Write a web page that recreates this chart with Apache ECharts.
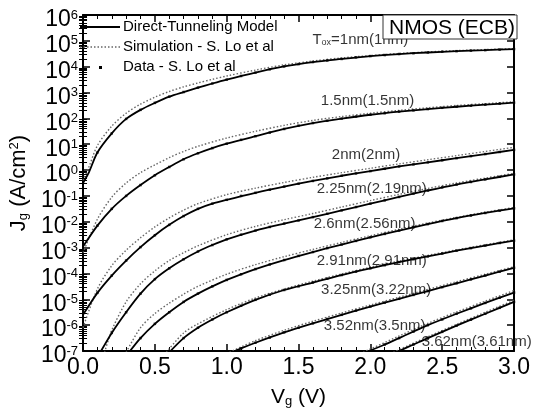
<!DOCTYPE html>
<html><head><meta charset="utf-8">
<script src="https://cdn.jsdelivr.net/npm/echarts@6/dist/echarts.min.js"></script>
<style>html,body{margin:0;padding:0;background:#fff}#c{width:533px;height:413px}</style>
</head><body><div id="c"></div>
<script>
// ---- Values: [Vg (V), log10 Jg (A/cm^2)] ----
// Direct-tunneling model (solid)
const m_1   = [[0,-0.5],[0.04,-0.1],[0.1,0.68],[0.2,1.42],[0.3,1.98],[0.4,2.33],[0.5,2.6],[0.6,2.84],[0.7,3.02],[0.8,3.19],[0.9,3.35],[1.0,3.5],[1.2,3.77],[1.4,4.01],[1.6,4.18],[1.8,4.3],[2.0,4.41],[2.2,4.49],[2.4,4.55],[2.6,4.6],[2.8,4.64],[3.0,4.68]];
const m_15  = [[0,-2.96],[0.1,-2.15],[0.2,-1.5],[0.3,-1.0],[0.4,-0.58],[0.5,-0.2],[0.6,0.12],[0.7,0.42],[0.8,0.65],[0.9,0.85],[1.0,1.02],[1.2,1.31],[1.4,1.59],[1.6,1.82],[1.8,1.99],[2.0,2.14],[2.2,2.26],[2.4,2.36],[2.6,2.45],[2.8,2.53],[3.0,2.61]];
const m_2   = [[0,-5.6],[0.1,-4.75],[0.2,-4.08],[0.3,-3.5],[0.4,-2.98],[0.5,-2.52],[0.6,-2.12],[0.7,-1.78],[0.8,-1.5],[0.9,-1.3],[1.0,-1.15],[1.2,-0.88],[1.4,-0.64],[1.6,-0.42],[1.8,-0.22],[2.0,-0.04],[2.2,0.14],[2.4,0.3],[2.6,0.46],[2.8,0.62],[3.0,0.78]];
const m_225 = [[0.12,-7.05],[0.2,-6.3],[0.3,-5.5],[0.4,-4.78],[0.5,-4.22],[0.6,-3.8],[0.7,-3.45],[0.8,-3.15],[0.9,-2.9],[1.0,-2.68],[1.2,-2.34],[1.4,-2.07],[1.6,-1.82],[1.8,-1.56],[2.0,-1.3],[2.2,-1.04],[2.4,-0.79],[2.6,-0.56],[2.8,-0.36],[3.0,-0.17]];
const m_26  = [[0.32,-7.05],[0.4,-6.5],[0.5,-5.95],[0.6,-5.5],[0.7,-5.1],[0.8,-4.78],[0.9,-4.5],[1.0,-4.25],[1.2,-3.83],[1.4,-3.48],[1.6,-3.17],[1.8,-2.88],[2.0,-2.6],[2.2,-2.34],[2.4,-2.09],[2.6,-1.86],[2.8,-1.66],[3.0,-1.48]];
const m_291 = [[0.6,-7.05],[0.7,-6.5],[0.8,-6.1],[0.9,-5.78],[1.0,-5.5],[1.2,-5.02],[1.4,-4.64],[1.6,-4.35],[1.8,-4.06],[2.0,-3.8],[2.2,-3.56],[2.4,-3.34],[2.6,-3.12],[2.8,-2.92],[3.0,-2.73]];
const m_325 = [[1.04,-7.05],[1.1,-6.9],[1.2,-6.68],[1.4,-6.28],[1.6,-5.93],[1.8,-5.6],[2.0,-5.28],[2.2,-4.98],[2.4,-4.68],[2.6,-4.38],[2.8,-4.08],[3.0,-3.78]];
const m_352 = [[1.97,-7.05],[2.1,-6.75],[2.2,-6.5],[2.4,-6.0],[2.6,-5.56],[2.8,-5.14],[3.0,-4.74]];
const m_362 = [[2.18,-7.05],[2.3,-6.75],[2.4,-6.5],[2.6,-6.02],[2.8,-5.56],[3.0,-5.1]];

// Simulation - S. Lo et al (dotted)
const s_1   = [[0,-0.4],[0.04,0.1],[0.1,0.95],[0.2,1.7],[0.3,2.2],[0.4,2.55],[0.5,2.82],[0.6,3.04],[0.7,3.22],[0.8,3.37],[0.9,3.51],[1.0,3.64],[1.2,3.87],[1.4,4.07],[1.6,4.22],[1.8,4.34],[2.0,4.43],[2.2,4.51],[2.4,4.57],[2.6,4.62],[2.8,4.66],[3.0,4.7]];
const s_15  = [[0,-3.2],[0.1,-1.9],[0.2,-1.05],[0.3,-0.5],[0.4,-0.1],[0.5,0.2],[0.6,0.48],[0.7,0.72],[0.8,0.92],[1.0,1.24],[1.2,1.5],[1.4,1.73],[1.6,1.92],[1.8,2.07],[2.0,2.2],[2.2,2.31],[2.4,2.41],[2.6,2.5],[2.8,2.57],[3.0,2.64]];
const s_2   = [[0,-6.1],[0.1,-4.6],[0.2,-3.7],[0.3,-3.1],[0.4,-2.62],[0.5,-2.2],[0.6,-1.85],[0.7,-1.55],[0.8,-1.3],[1.0,-0.95],[1.2,-0.7],[1.4,-0.48],[1.6,-0.28],[1.8,-0.1],[2.0,0.07],[2.2,0.24],[2.4,0.4],[2.6,0.56],[2.8,0.72],[3.0,0.88]];
const s_225 = [[0.15,-7.05],[0.2,-6.2],[0.3,-5.1],[0.4,-4.4],[0.5,-3.9],[0.6,-3.5],[0.7,-3.2],[0.8,-2.93],[1.0,-2.5],[1.2,-2.18],[1.4,-1.92],[1.6,-1.68],[1.8,-1.43],[2.0,-1.18],[2.2,-0.94],[2.4,-0.71],[2.6,-0.5],[2.8,-0.31],[3.0,-0.13]];
const s_26  = [[0.3,-7.05],[0.4,-6.1],[0.5,-5.55],[0.6,-5.15],[0.7,-4.8],[0.8,-4.5],[1.0,-4.03],[1.2,-3.66],[1.4,-3.35],[1.6,-3.07],[1.8,-2.8],[2.0,-2.54],[2.2,-2.29],[2.4,-2.05],[2.6,-1.83],[2.8,-1.63],[3.0,-1.45]];
const s_291 = [[0.58,-7.05],[0.7,-6.3],[0.8,-5.95],[1.0,-5.4],[1.2,-4.95],[1.4,-4.6],[1.6,-4.3],[1.8,-4.02],[2.0,-3.76],[2.2,-3.52],[2.4,-3.3],[2.6,-3.09],[2.8,-2.89],[3.0,-2.7]];
const s_325 = [[1.02,-7.05],[1.2,-6.6],[1.4,-6.2],[1.6,-5.85],[1.8,-5.53],[2.0,-5.22],[2.2,-4.92],[2.4,-4.62],[2.6,-4.32],[2.8,-4.03],[3.0,-3.74]];
const s_352 = [[1.95,-7.05],[2.2,-6.42],[2.4,-5.93],[2.6,-5.49],[2.8,-5.07],[3.0,-4.66]];
const s_362 = [[2.16,-7.05],[2.4,-6.45],[2.6,-5.97],[2.8,-5.5],[3.0,-5.04]];

// Data - S. Lo et al (points), on this Vg grid
const DATA_V = [0.1,0.2,0.3,0.4,0.5,0.6,0.7,0.8,0.9,1.0,1.1,1.2,1.3,1.4,1.5,1.6,1.7,1.8,1.9,2.0,2.1,2.2,2.3,2.4,2.5,2.6,2.7,2.8,2.9,3.0];
const d_1   = [0.68,1.42,1.98,2.33,2.6,2.84,3.02,3.19,3.35,3.5,3.64,3.77,3.9,4.01,4.1,4.18,4.24,4.3,4.36,4.41,4.45,4.49,4.52,4.55,4.58,4.6,4.62,4.64,4.66,4.68];
const d_15  = [-2.15,-1.5,-1.0,-0.58,-0.2,0.12,0.42,0.65,0.85,1.02,1.17,1.31,1.45,1.59,1.72,1.82,1.91,1.99,2.07,2.14,2.2,2.26,2.31,2.36,2.41,2.45,2.49,2.53,2.57,2.61];
const d_2   = [-4.75,-4.08,-3.5,-2.98,-2.52,-2.12,-1.78,-1.5,-1.3,-1.15,-1.0,-0.88,-0.76,-0.64,-0.53,-0.42,-0.32,-0.22,-0.13,-0.04,0.05,0.14,0.22,0.3,0.38,0.46,0.54,0.62,0.7,0.78];
const d_225 = [null,-6.3,-5.5,-4.78,-4.22,-3.8,-3.45,-3.15,-2.9,-2.68,-2.5,-2.34,-2.2,-2.07,-1.95,-1.82,-1.69,-1.56,-1.43,-1.3,-1.17,-1.04,-0.91,-0.79,-0.67,-0.56,-0.46,-0.36,-0.26,-0.17];
const d_26  = [null,null,null,-6.5,-5.95,-5.5,-5.1,-4.78,-4.5,-4.25,-4.03,-3.83,-3.65,-3.48,-3.32,-3.17,-3.02,-2.88,-2.74,-2.6,-2.47,-2.34,-2.21,-2.09,-1.97,-1.86,-1.76,-1.66,-1.57,-1.48];
const d_291 = [null,null,null,null,null,null,-6.5,-6.1,-5.78,-5.5,-5.25,-5.02,-4.82,-4.64,-4.5,-4.35,-4.2,-4.06,-3.93,-3.8,-3.68,-3.56,-3.45,-3.34,-3.23,-3.12,-3.02,-2.92,-2.82,-2.73];
const d_325 = [null,null,null,null,null,null,null,null,null,null,-6.9,-6.68,-6.48,-6.28,-6.1,-5.93,-5.76,-5.6,-5.44,-5.28,-5.13,-4.98,-4.83,-4.68,-4.53,-4.38,-4.23,-4.08,-3.93,-3.78];
const d_352 = [null,null,null,null,null,null,null,null,null,null,null,null,null,null,null,null,null,null,null,null,-6.75,-6.5,-6.25,-6.0,-5.78,-5.56,-5.35,-5.14,-4.94,-4.74];
const d_362 = [null,null,null,null,null,null,null,null,null,null,null,null,null,null,null,null,null,null,null,null,null,null,-6.75,-6.5,-6.26,-6.02,-5.79,-5.56,-5.33,-5.1];

// Curve annotations: text and anchor [Vg, log10 Jg]
const LABEL_TEXT = ['{t|T}{o|ox}{t|=1nm(1nm)}','1.5nm(1.5nm)','2nm(2nm)','2.25nm(2.19nm)','2.6nm(2.56nm)','2.91nm(2.91nm)','3.25nm(3.22nm)','3.52nm(3.5nm)','3.62nm(3.61nm)'];
const LABEL_V = [1.93,1.98,1.97,2.01,1.96,2.01,2.04,2.03,2.74];
const LABEL_L = [5.04,2.69,0.58,-0.73,-2.08,-3.5,-4.65,-6.04,-6.65];

// Axes
const X_MIN = 0, X_MAX = 3, X_STEP = 0.5;
const Y_MIN = -7, Y_MAX = 6, Y_STEP = 1;   // decades

const MODELS = [m_1,m_15,m_2,m_225,m_26,m_291,m_325,m_352,m_362];
const SIMS   = [s_1,s_15,s_2,s_225,s_26,s_291,s_325,s_352,s_362];
const DATAS  = [d_1,d_15,d_2,d_225,d_26,d_291,d_325,d_352,d_362];

const FONT = '"Liberation Sans", Arial, sans-serif';
const minorY = [];
for (let n = Y_MIN; n < Y_MAX; n++) for (let k = 2; k <= 9; k++) minorY.push(n + Math.log10(k));

const series = [];
SIMS.forEach(s => series.push({type:'line', data:s, showSymbol:false, smooth:0.3,
  lineStyle:{color:'#666', width:1.4, type:[1.5,2]}, z:2, silent:true}));
MODELS.forEach(m => series.push({type:'line', data:m, showSymbol:false, smooth:0.3,
  lineStyle:{color:'#000', width:1.8}, z:3, silent:true}));
DATAS.forEach(d => series.push({type:'scatter', symbol:'rect', symbolSize:2.5, itemStyle:{color:'#000'}, z:4, silent:true,
  data: DATA_V.map((v,i)=> d[i]==null ? null : [v,d[i]]).filter(p=>p)}));
series.push({type:'scatter', symbol:'circle', symbolSize:1, itemStyle:{color:'rgba(0,0,0,0)'}, z:6, silent:true, clip:false,
  label:{show:true, position:'inside', color:'#000', fontFamily:FONT, fontSize:15,
    formatter: p => LABEL_TEXT[p.dataIndex],
    rich:{t:{fontSize:15, fontFamily:FONT, color:'#000'}, o:{fontSize:9, fontFamily:FONT, color:'#000', verticalAlign:'bottom', padding:[6,0,0,0]}}},
  data: LABEL_V.map((v,i)=>[v, LABEL_L[i]])});

const axisLineS = {show:true, onZero:false, lineStyle:{color:'#000', width:2}};
const chart = echarts.init(document.getElementById('c'), null, {renderer:'canvas'});
chart.setOption({
  animation:false,
  backgroundColor:'#fff',
  grid:{left:77, right:16, top:15, bottom:60, containLabel:false},
  xAxis:[
    {type:'value', min:X_MIN, max:X_MAX, interval:X_STEP, position:'bottom',
     axisLine:axisLineS, axisTick:{inside:true, length:7, lineStyle:{color:'#000', width:1.5}},
     minorTick:{show:true, splitNumber:5, length:4, lineStyle:{color:'#000', width:1}},
     splitLine:{show:false}, minorSplitLine:{show:false},
     axisLabel:{color:'#000', fontSize:23, fontFamily:FONT, margin:5, formatter:v=>v.toFixed(1)},
     name:'{v|V}{s|g}{v| (V)}', nameLocation:'middle', nameGap:36,
     nameTextStyle:{rich:{v:{fontSize:21, fontFamily:FONT, color:'#000'}, s:{fontSize:13, fontFamily:FONT, color:'#000', verticalAlign:'bottom', padding:[8,0,0,0]}}}},
    {type:'value', min:X_MIN, max:X_MAX, interval:X_STEP, position:'top',
     axisLine:axisLineS, axisTick:{inside:true, length:7, lineStyle:{color:'#000', width:1.5}},
     minorTick:{show:true, splitNumber:5, length:4, lineStyle:{color:'#000', width:1}},
     splitLine:{show:false}, axisLabel:{show:false}}
  ],
  yAxis:[
    {type:'value', min:Y_MIN, max:Y_MAX, interval:Y_STEP, position:'left',
     axisLine:axisLineS, axisTick:{inside:true, length:7, lineStyle:{color:'#000', width:1.5}},
     splitLine:{show:false},
     axisLabel:{color:'#000', margin:5, padding:[10,0,0,0], formatter:v=>'{b|10}{s|'+v+'}',
       rich:{b:{fontSize:23, lineHeight:23, fontFamily:FONT, color:'#000'}, s:{fontSize:13, lineHeight:13, fontFamily:FONT, color:'#000', verticalAlign:'top'}}},
     name:'{j|J}{s|g}{j| (A/cm}{p|2}{j|)}', nameLocation:'middle', nameRotate:90, nameGap:48,
     nameTextStyle:{rich:{j:{fontSize:22, fontFamily:FONT, color:'#000'}, s:{fontSize:13, fontFamily:FONT, color:'#000', verticalAlign:'bottom', padding:[8,0,0,0]}, p:{fontSize:13, fontFamily:FONT, color:'#000', verticalAlign:'top'}}}},
    {type:'value', min:Y_MIN, max:Y_MAX, interval:Y_STEP, position:'right',
     axisLine:axisLineS, axisTick:{inside:true, length:7, lineStyle:{color:'#000', width:1.5}},
     splitLine:{show:false}, axisLabel:{show:false}},
    {type:'value', min:Y_MIN, max:Y_MAX, position:'left', axisLine:{show:false},
     axisTick:{show:true, inside:true, length:4, customValues:minorY, lineStyle:{color:'#000', width:1}},
     splitLine:{show:false}, axisLabel:{show:false}},
    {type:'value', min:Y_MIN, max:Y_MAX, position:'right', axisLine:{show:false},
     axisTick:{show:true, inside:true, length:4, customValues:minorY, lineStyle:{color:'#000', width:1}},
     splitLine:{show:false}, axisLabel:{show:false}}
  ],
  graphic:[
    {type:'rect', z:100, shape:{x:383, y:15, width:134, height:24}, style:{fill:'#fff', stroke:'#333', lineWidth:1}},
    {type:'text', z:101, style:{text:'NMOS (ECB)', x:515, y:28, align:'right', verticalAlign:'middle', font:'21px "Liberation Sans", Arial, sans-serif', fill:'#000'}},
    {type:'line', z:100, shape:{x1:80, y1:27, x2:120, y2:27}, style:{stroke:'#000', lineWidth:2}},
    {type:'line', z:100, shape:{x1:80, y1:47, x2:120, y2:47}, style:{stroke:'#666', lineWidth:1.4, lineDash:[1.5,2]}},
    {type:'rect', z:100, shape:{x:99, y:66, width:3, height:3}, style:{fill:'#000'}},
    {type:'text', z:101, style:{text:'Direct-Tunneling Model', x:123, y:27, verticalAlign:'middle', font:'15px "Liberation Sans", Arial, sans-serif', fill:'#000'}},
    {type:'text', z:101, style:{text:'Simulation - S. Lo et al', x:123, y:47, verticalAlign:'middle', font:'15px "Liberation Sans", Arial, sans-serif', fill:'#000'}},
    {type:'text', z:101, style:{text:'Data - S. Lo et al', x:123, y:67, verticalAlign:'middle', font:'15px "Liberation Sans", Arial, sans-serif', fill:'#000'}}
  ],
  series: series
});
</script></body></html>
